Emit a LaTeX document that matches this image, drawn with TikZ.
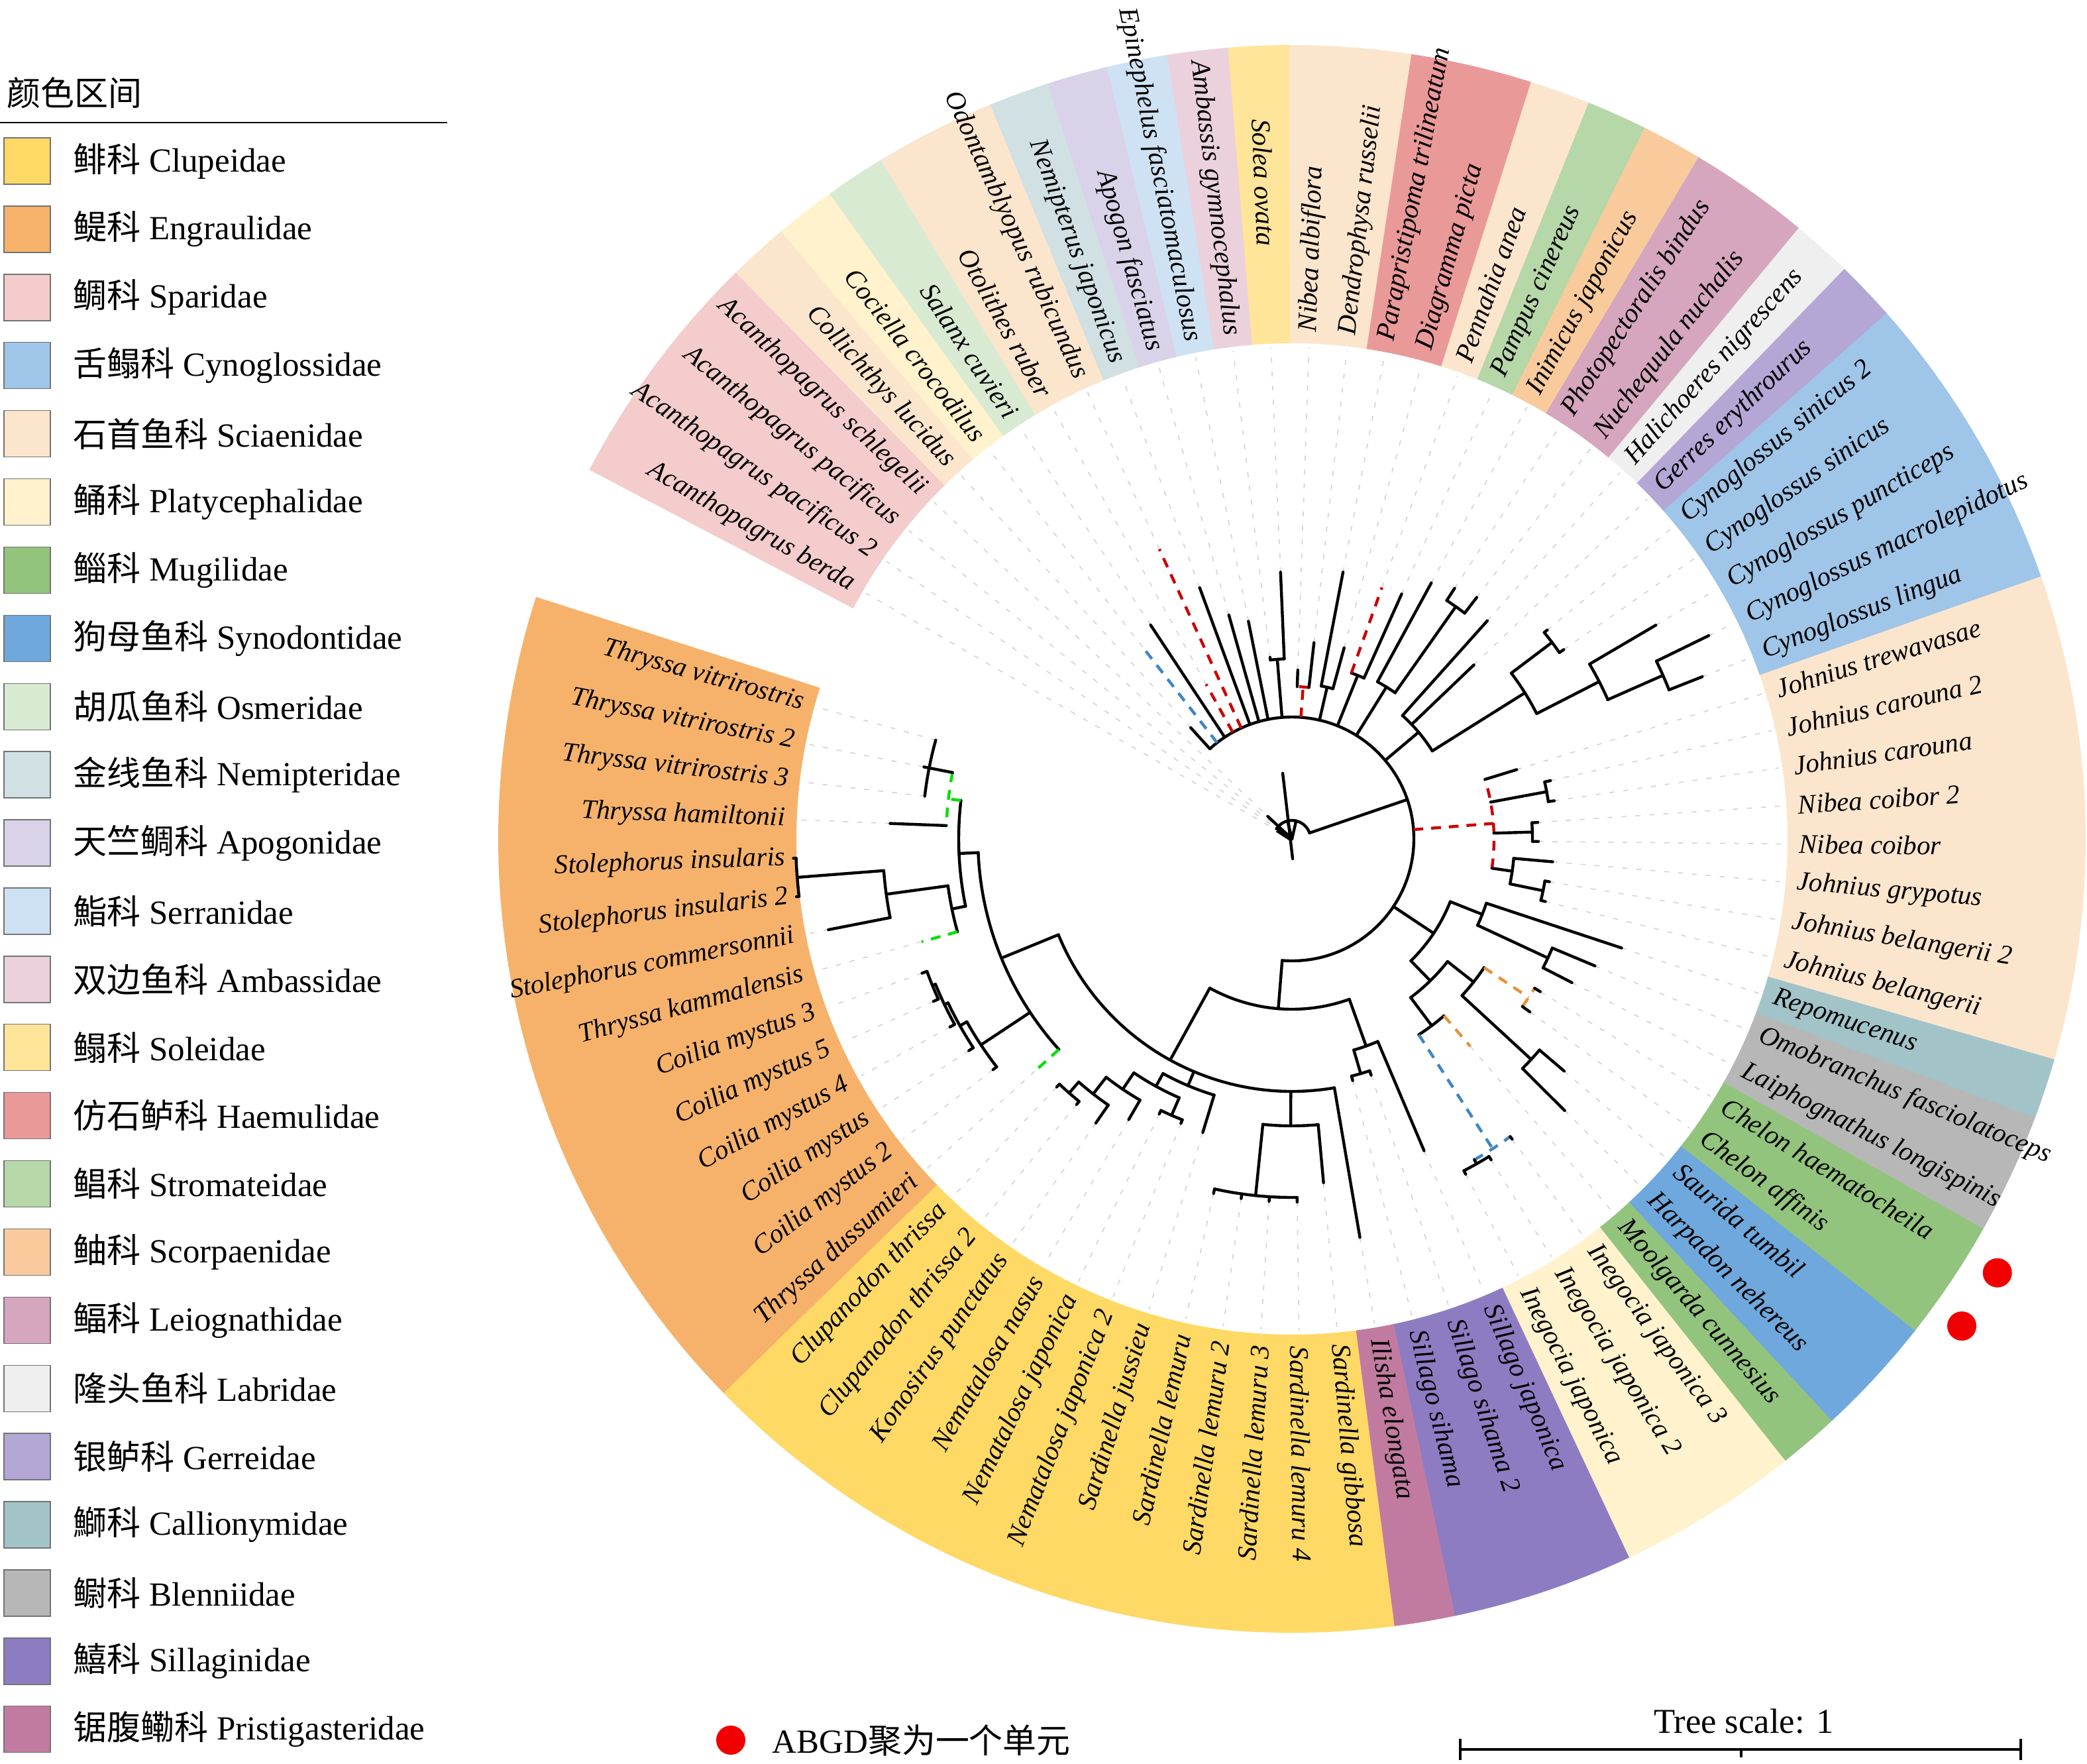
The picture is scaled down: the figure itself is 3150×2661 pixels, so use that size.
\documentclass[tikz,border=0pt]{standalone}
\usepackage{fontspec}
\setmainfont{Liberation Serif}
\newfontfamily\cjk{Noto Sans CJK SC}
\definecolor{cClu}{HTML}{FFD966}
\definecolor{cEng}{HTML}{F6B26B}
\definecolor{cSpa}{HTML}{F4CCCC}
\definecolor{cCyn}{HTML}{9FC5E8}
\definecolor{cSci}{HTML}{FCE5CD}
\definecolor{cPla}{HTML}{FFF2CC}
\definecolor{cMug}{HTML}{93C47D}
\definecolor{cSyn}{HTML}{6FA8DC}
\definecolor{cOsm}{HTML}{D9EAD3}
\definecolor{cNem}{HTML}{D0E0E3}
\definecolor{cApo}{HTML}{D9D2E9}
\definecolor{cSer}{HTML}{CFE2F3}
\definecolor{cAmb}{HTML}{EAD1DC}
\definecolor{cSol}{HTML}{FFE599}
\definecolor{cHae}{HTML}{EA9999}
\definecolor{cStr}{HTML}{B6D7A8}
\definecolor{cSco}{HTML}{F9CB9C}
\definecolor{cLei}{HTML}{D5A6BD}
\definecolor{cLab}{HTML}{EFEFEF}
\definecolor{cGer}{HTML}{B4A7D6}
\definecolor{cCal}{HTML}{A2C4C9}
\definecolor{cBle}{HTML}{B7B7B7}
\definecolor{cSil}{HTML}{8E7CC3}
\definecolor{cPri}{HTML}{C27BA0}
\definecolor{cRed}{HTML}{CC0000}
\definecolor{cBlue}{HTML}{3D85C6}
\definecolor{cGreen}{HTML}{00E000}
\definecolor{cOrg}{HTML}{E69138}
\definecolor{cGray}{HTML}{D6D6D6}
\definecolor{cDot}{HTML}{F00000}
\newcommand\RAD[4][br]{\draw[#1] (#2:#3) -- (#2:#4);}
\newcommand\ARC[4][br]{\draw[#1] (#3:#2) arc[start angle=#3,end angle=#4,radius=#2];}
\newcommand\SEG[3]{\pgfmathsetmacro\sa{164.5+(#1-1)*4.43-2.25}\pgfmathsetmacro\sb{164.5+(#2-1)*4.43+2.25}%
  \fill[#3] (\sa:748) arc[start angle=\sa,end angle=\sb,radius=748] -- (\sb:1198) arc[start angle=\sb,end angle=\sa,radius=1198] -- cycle;}
\begin{document}
\begin{tikzpicture}[x=0.1mm,y=0.1mm,
  br/.style={draw=black,line width=1.25pt,line cap=round,line join=miter},
  rdash/.style={draw=cRed,line width=1.25pt,dash pattern=on 4.2pt off 3.4pt},
  bdash/.style={draw=cBlue,line width=1.25pt,dash pattern=on 4.2pt off 3.4pt},
  gdash/.style={draw=cGreen,line width=1.25pt,dash pattern=on 4.2pt off 3.4pt},
  odash/.style={draw=cOrg,line width=1.25pt,dash pattern=on 4.2pt off 3.4pt},
  ext/.style={draw=cGray,line width=0.5pt,dash pattern=on 2.2pt off 3.8pt},
  lab/.style={font=\fontsize{11.6}{13}\selectfont\itshape,inner sep=0pt},
  leg/.style={font=\fontsize{14.5}{17}\selectfont,inner sep=0pt,anchor=west}]
\useasboundingbox (-1950,-1395) rectangle (1200,1266);
% ---------- colour ring ----------
\SEG{1}{14}{cEng}\SEG{15}{26}{cClu}\SEG{27}{27}{cPri}\SEG{28}{30}{cSil}
\SEG{31}{33}{cPla}\SEG{34}{34}{cMug}\SEG{35}{36}{cSyn}\SEG{37}{38}{cMug}
\SEG{39}{40}{cBle}\SEG{41}{41}{cCal}\SEG{42}{49}{cSci}\SEG{50}{54}{cCyn}
\SEG{55}{55}{cGer}\SEG{56}{56}{cLab}\SEG{57}{58}{cLei}\SEG{59}{59}{cSco}
\SEG{60}{60}{cStr}\SEG{61}{61}{cSci}\SEG{62}{63}{cHae}\SEG{64}{65}{cSci}
\SEG{66}{66}{cSol}\SEG{67}{67}{cAmb}\SEG{68}{68}{cSer}\SEG{69}{69}{cApo}
\SEG{70}{70}{cNem}\SEG{71}{72}{cSci}\SEG{73}{73}{cOsm}\SEG{74}{74}{cPla}
\SEG{75}{75}{cSci}\SEG{76}{79}{cSpa}
% ---------- leaf labels and guide lines ----------
\foreach \k/\t/\r/\p in {1/Thryssa vitrirostris/558/765,2/Thryssa vitrirostris 2/566/765,3/Thryssa vitrirostris 3/558/765,
 4/Thryssa hamiltonii/607/765,5/Stolephorus insularis/753/765,6/Stolephorus insularis 2/753/765,
 7/Stolephorus commersonnii/713/765,8/Thryssa kammalensis/580/765,9/Coilia mystus 3/594/765,10/Coilia mystus 5/594/765,
 11/Coilia mystus 4/589/765,12/Coilia mystus/583/765,13/Coilia mystus 2/570/765,14/Thryssa dussumieri/523/765,
 15/Clupanodon thrissa/516/765,16/Clupanodon thrissa 2/516/765,17/Konosirus punctatus/521/765,18/Nematalosa nasus/490/765,
 19/Nematalosa japonica/461/765,20/Nematalosa japonica 2/461/765,21/Sardinella jussieu/463/765,22/Sardinella lemuru/548/765,
 23/Sardinella lemuru 2/548/765,24/Sardinella lemuru 3/548/765,25/Sardinella lemuru 4/548/765,26/Sardinella gibbosa/521/765,
 27/Ilisha elongata/610/765,28/Sillago sihama/376/765,29/Sillago sihama 2/376/765,30/Sillago japonica/511/765,
 31/Inegocia japonica/570/765,32/Inegocia japonica 2/570/765,33/Inegocia japonica 3/562/765,34/Moolgarda cunnesius/413/765,
 35/Harpadon nehereus/581/765,36/Saurida tumbil/540/765,37/Chelon affinis/444/765,38/Chelon haematocheila/440/765,
 39/Laiphognathus longispinis/475/765,40/Omobranchus fasciolatoceps/496/765,41/Repomucenus/524/765,
 42/Johnius belangerii/394/765,43/Johnius belangerii 2/394/765,44/Johnius grypotus/395/765,45/Nibea coibor/372/765,
 46/Nibea coibor 2/372/765,47/Johnius carouna/400/765,48/Johnius carouna 2/400/765,49/Johnius trewavasae/355/765,
 50/Cynoglossus lingua/666/765,51/Cynoglossus macrolepidotus/700/765,52/Cynoglossus puncticeps/637/765,
 53/Cynoglossus sinicus/500/765,54/Cynoglossus sinicus 2/498/765,55/Gerres erythrourus/380/765,
 56/Halichoeres nigrescens/442/765,57/Nuchequula nuchalis/459/765,58/Photopectoralis bindus/451/765,
 59/Inimicus japonicus/440/765,60/Pampus cinereus/405/765,61/Pennahia anea/403/765,62/Diagramma picta/299/765,
 63/Parapristipoma trilineatum/410/765,64/Dendrophysa russelii/298/765,65/Nibea albiflora/255/765,66/Solea ovata/403/895,
 67/Ambassis gymnocephalus/276/765,68/Epinephelus fasciatomaculosus/335/765,69/Apogon fasciatus/351/765,
 70/Nemipterus japonicus/404/765,71/Odontamblyopus rubicundus/481/765,72/Otolithes ruber/267/765,73/Salanx cuvieri/387/765,
 74/Cociella crocodilus/367/765,75/Collichthys lucidus/227/765,76/Acanthopagrus schlegelii/40/765,
 77/Acanthopagrus pacificus/40/765,78/Acanthopagrus pacificus 2/40/765,79/Acanthopagrus berda/40/765}{
  \pgfmathsetmacro\a{164.5+(\k-1)*4.43}
  \pgfmathtruncatemacro\fl{and(mod(\a,360)>90,mod(\a,360)<270)}
  \ifnum\fl=1
    \node[lab,anchor=east,rotate=\a-180] (leaf\k) at (\a:\p) {\t};
  \else
    \node[lab,anchor=west,rotate=\a] (leaf\k) at (\a:\p) {\t};
  \fi
  \ifnum\r<740 \draw[ext] (\a:\r) -- (\a:742); \fi
}
% ---------- root ----------
\ARC{28}{378.85}{507}
\RAD{378.85}{28}{184}
\draw[br] (98:100) -- (272:30);
\draw[br] (0,0) -- (104:28);
\draw[br] (0,0) -- (77:28);
\draw[br] (0,0) -- (137:50);
\draw[line width=2.4pt] (0,0) -- (147:26);
% ---------- main clade ----------
\ARC{184}{265.4}{492.32}
% upper part
\RAD{492.32}{184}{227}
\RAD[bdash]{487.89}{184}{367}
\RAD{483.46}{184}{387}
\RAD[rdash]{479.03}{184}{267}
\RAD[rdash]{474.60}{184}{481}
\RAD{470.17}{184}{404}
\RAD{465.74}{184}{351}
\RAD{461.31}{184}{335}
\RAD{454.67}{184}{272}\ARC{272}{452.45}{456.88}\RAD{456.88}{272}{276}\RAD{452.45}{272}{403}
\RAD[rdash]{445.8}{184}{230}\ARC[rdash]{230}{443.59}{448.02}\RAD{448.02}{230}{255}\RAD{443.59}{230}{298}
\RAD{436.95}{184}{235}\ARC{235}{434.73}{439.16}\RAD{439.16}{235}{410}\RAD{434.73}{235}{299}
\RAD{428.09}{184}{266}\ARC{266}{425.87}{430.30}\RAD[rdash]{430.30}{266}{403}\RAD{425.87}{266}{405}
\RAD{418.12}{184}{270}\ARC{270}{414.80}{421.44}\RAD{421.44}{270}{440}\RAD{414.80}{270}{429}
\ARC{429}{412.58}{417.01}\RAD{417.01}{429}{451}\RAD{412.58}{429}{459}
\RAD{400.12}{184}{250}\ARC{250}{392.09}{408.15}\RAD{408.15}{250}{442}\RAD{403.72}{250}{380}
\RAD{392.09}{250}{415}\ARC{415}{387.11}{397.08}\RAD{397.08}{415}{492}\ARC{492}{394.86}{399.29}
\RAD{399.29}{492}{498}\RAD{394.86}{492}{500}\RAD{387.11}{415}{521}\ARC{521}{383.79}{390.43}
\RAD{390.43}{521}{637}\RAD{383.79}{521}{612}\ARC{612}{381.57}{386.00}\RAD{386.00}{612}{700}\RAD{381.57}{612}{666}
% Sciaenidae (red)
\RAD[rdash]{364.4}{184}{305}\ARC[rdash]{305}{351.67}{377.14}
\RAD{377.14}{305}{355}
\RAD{370.50}{305}{391}\ARC{391}{368.28}{372.71}\RAD{372.71}{391}{400}\RAD{368.28}{391}{400}
\RAD{361.64}{305}{363}\ARC{363}{359.42}{363.85}\RAD{363.85}{363}{372}\RAD{359.42}{363}{372}
\RAD{351.67}{305}{336}\ARC{336}{348.35}{354.99}\RAD{354.99}{336}{395}\RAD{348.35}{336}{387}
\ARC{387}{346.13}{350.56}\RAD{350.56}{387}{394}\RAD{346.13}{387}{394}
% lower right
\RAD{326.34}{184}{257}\ARC{257}{314.29}{338.38}
\RAD{338.38}{257}{309}\ARC{309}{335.06}{341.70}\RAD{341.70}{309}{524}\RAD{335.06}{309}{426}
\ARC{426}{332.84}{337.27}\RAD{337.27}{426}{496}\RAD{332.84}{426}{475}
\RAD{314.29}{257}{299}\ARC{299}{306.82}{321.77}
\RAD{321.77}{299}{349}\ARC{349}{317.34}{326.20}
\RAD[odash]{326.20}{349}{430}\ARC[odash]{430}{323.98}{328.41}\RAD{328.41}{430}{440}\RAD{323.98}{430}{444}
\RAD{317.34}{349}{491}\ARC{491}{315.12}{319.55}\RAD{319.55}{491}{540}\RAD{315.12}{491}{581}
\RAD{306.82}{299}{352}\ARC{352}{302.94}{310.69}
\RAD[odash]{310.69}{352}{413}
\RAD[bdash]{302.94}{352}{557}\ARC[bdash]{557}{299.62}{306.26}\RAD{306.26}{557}{562}
\RAD{299.62}{557}{564}\ARC{564}{297.40}{301.83}\RAD{301.83}{564}{570}\RAD{297.40}{564}{570}
% bottom
\RAD{265.4}{184}{257}\ARC{257}{241.15}{289.7}
\RAD{289.7}{257}{332}\ARC{332}{286.33}{292.97}\RAD{292.97}{332}{511}\RAD{286.33}{332}{369}
\ARC{369}{284.11}{288.54}\RAD{288.54}{369}{376}\RAD{284.11}{369}{376}
\RAD{241.15}{257}{381}\ARC{381}{202.3}{279.68}
\RAD{279.68}{381}{610}
\RAD{269.75}{381}{433}\ARC{433}{264.18}{275.25}\RAD{275.25}{433}{521}\RAD{264.18}{433}{541}
\ARC{541}{257.53}{270.82}\RAD{257.53}{541}{548}\RAD{261.96}{541}{548}\RAD{266.39}{541}{548}\RAD{270.82}{541}{548}
\RAD{247.15}{381}{404}\ARC{404}{241.2}{253.10}\RAD{253.10}{404}{463}\RAD{241.2}{404}{426}
\ARC{426}{235.94}{246.46}\RAD{246.46}{426}{455}\ARC{455}{244.24}{248.67}\RAD{244.24}{455}{461}\RAD{248.67}{455}{461}
\RAD{235.94}{426}{456}\ARC{456}{232.06}{239.81}\RAD{239.81}{456}{490}\RAD{232.06}{456}{488}
\ARC{488}{228.74}{235.38}\RAD{235.38}{488}{521}\RAD{228.74}{488}{510}
\ARC{510}{226.52}{230.95}\RAD{226.52}{510}{516}\RAD{230.95}{510}{516}
% left (Engraulidae)
\RAD{202.3}{381}{474}\ARC{474}{182.5}{222.09}
\RAD[gdash]{222.09}{474}{523}
\RAD{213.51}{474}{563}\ARC{563}{209.36}{217.66}\RAD{217.66}{563}{570}\RAD{209.36}{563}{575}
\ARC{575}{205.48}{213.23}\RAD{213.23}{575}{583}\RAD{205.48}{575}{581}
\ARC{581}{202.16}{208.80}\RAD{208.80}{581}{589}\RAD{202.16}{581}{586}
\ARC{586}{199.94}{204.37}\RAD{199.94}{586}{594}\RAD{204.37}{586}{594}
\RAD{182.5}{474}{503}\ARC{503}{173.36}{191.64}
\RAD{191.64}{503}{524}\ARC{524}{187.76}{195.51}\RAD[gdash]{195.51}{524}{580}\RAD{187.76}{524}{618}
\ARC{618}{184.44}{191.08}\RAD{191.08}{618}{713}\RAD{184.44}{618}{749}
\ARC{749}{182.22}{186.65}\RAD{182.22}{749}{753}\RAD{186.65}{749}{753}
\RAD[gdash]{173.36}{503}{522}\ARC[gdash]{522}{168.93}{177.79}\RAD{177.79}{522}{607}\RAD{168.93}{522}{558}
\ARC{558}{164.5}{173.36}\RAD{168.93}{558}{566}
% ---------- ABGD dots ----------
\fill[cDot] (323.98:1250) circle[radius=22];
\fill[cDot] (328.41:1250) circle[radius=22];
% ---------- legend ----------
\node[leg] (legtitle) at (-1940,1126) {\cjk 颜色区间};
\draw[line width=0.7pt] (-1950,1081) -- (-1275,1081);
\foreach \i/\c/\zh/\en in {0/cClu/鲱科/Clupeidae,1/cEng/鳀科/Engraulidae,2/cSpa/鲷科/Sparidae,
 3/cCyn/舌鳎科/Cynoglossidae,4/cSci/石首鱼科/Sciaenidae,5/cPla/鲬科/Platycephalidae,6/cMug/鲻科/Mugilidae,
 7/cSyn/狗母鱼科/Synodontidae,8/cOsm/胡瓜鱼科/Osmeridae,9/cNem/金线鱼科/Nemipteridae,
 10/cApo/天竺鲷科/Apogonidae,11/cSer/鮨科/Serranidae,12/cAmb/双边鱼科/Ambassidae,13/cSol/鳎科/Soleidae,
 14/cHae/仿石鲈科/Haemulidae,15/cStr/鲳科/Stromateidae,16/cSco/鲉科/Scorpaenidae,17/cLei/鲾科/Leiognathidae,
 18/cLab/隆头鱼科/Labridae,19/cGer/银鲈科/Gerreidae,20/cCal/鰤科/Callionymidae,21/cBle/鳚科/Blenniidae,
 22/cSil/鱚科/Sillaginidae,23/cPri/锯腹鳓科/Pristigasteridae}{
  \pgfmathsetmacro\yy{1023-\i*102.9}
  \filldraw[fill=\c,draw=black!55,line width=0.4pt] (-1944,\yy-35) rectangle (-1874,\yy+35);
  \node[leg] (leg\i) at (-1840,\yy) {{\cjk \zh} \en};
}
\fill[cDot] (-847,-1360) circle[radius=22];
\node[leg] (abgd) at (-785,-1360) {ABGD{\cjk 聚为一个单元}};
% ---------- tree scale ----------
\node[font=\fontsize{15}{17}\selectfont,inner sep=0pt] (scale) at (682,-1332) {Tree scale: 1};
\draw[line width=1.3pt] (254,-1374) -- (1100,-1374);
\draw[line width=1.3pt] (254,-1358) -- (254,-1390);
\draw[line width=1.3pt] (1100,-1358) -- (1100,-1390);
\draw[line width=1.0pt] (678,-1374) -- (678,-1386);
\end{tikzpicture}
\end{document}
